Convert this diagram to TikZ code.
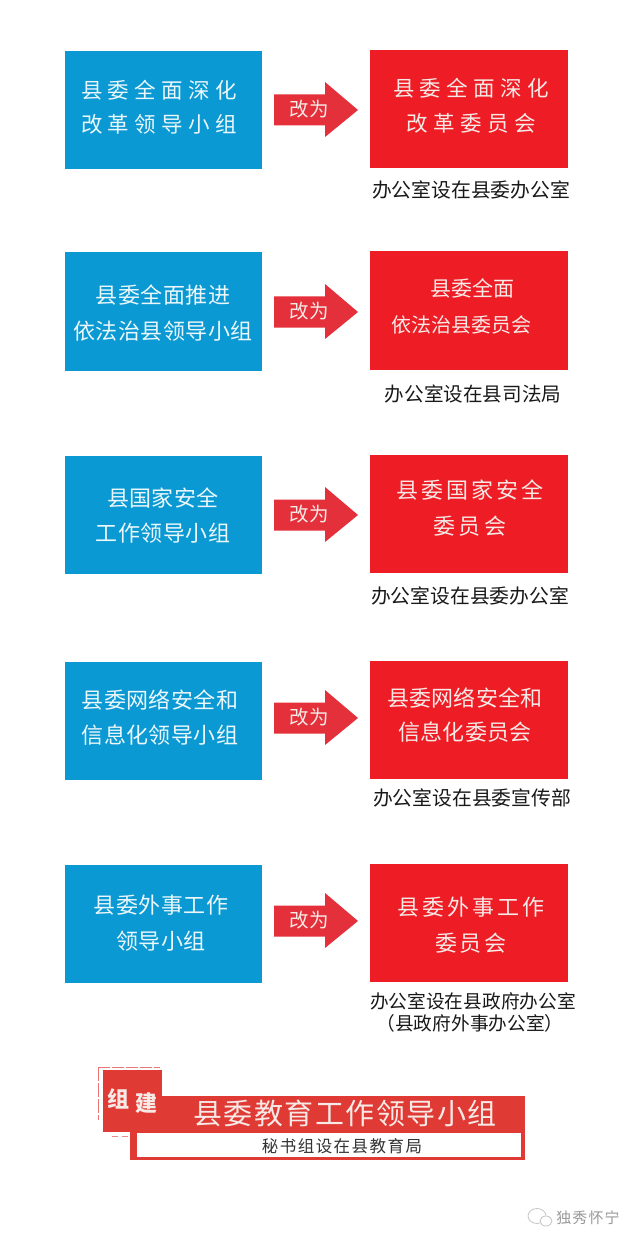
\documentclass[tikz,border=0pt]{standalone}
\usepackage{fontspec}
\setmainfont{Noto Sans CJK SC}
\definecolor{bluebox}{HTML}{0A99D2}
\definecolor{redbox}{HTML}{EE1C25}
\definecolor{arrowred}{HTML}{E3303A}
\definecolor{stampred}{HTML}{E03A35}
\definecolor{boxtext}{HTML}{F6E9E6}
\newcommand\pitched[3]{\fontsize{#1}{#1}\selectfont\addfontfeature{LetterSpace=#2}#3}
\tikzset{
  x=1pt,y=-1pt,
  blueblock/.style={fill=bluebox,draw=none,inner sep=0pt,minimum width=197pt,minimum height=118pt},
  redblock/.style={fill=redbox,draw=none,inner sep=0pt,minimum width=198pt,minimum height=118pt},
  boxline/.style={text=boxtext,inner sep=0pt},
  bluelabel/.style={text=white!92!bluebox,inner sep=0pt},
  caption/.style={text=black!90,inner sep=0pt,font=\fontsize{19.8}{22}\selectfont},
  changelabel/.style={text=boxtext,inner sep=0pt,font=\fontsize{19.5}{20}\selectfont},
}
\newcommand\changearrow[1]{%
  \fill[arrowred] (274,#1-15.5) -- (325,#1-15.5) -- (325,#1-28) -- (358,#1) -- (325,#1+27) -- (325,#1+15.5) -- (274,#1+15.5) -- cycle;
  \node[changelabel] (arrow#1) at (309,#1-1) {改为};}
\begin{document}
\begin{tikzpicture}
\useasboundingbox (0,0) rectangle (640,1246);
\fill[white] (0,0) rectangle (640,1246);

% row 1
\node[blueblock] (b1) at (163.5,110.5) {};
\node[redblock] (r1) at (469,109) {};
\changearrow{110}
\node[bluelabel] (b1a) at (159,90) {\pitched{21.5}{25}{县委全面深化}};
\node[bluelabel] (b1b) at (159,124) {\pitched{21.5}{25}{改革领导小组}};
\node[boxline] (r1a) at (471,88) {\pitched{21.5}{25}{县委全面深化}};
\node[boxline] (r1b) at (471,123) {\pitched{21.5}{25}{改革委员会}};
\node[caption] (c1) at (471,190) {办公室设在县委办公室};

% row 2
\node[blueblock] (b2) at (163.5,311.5) {};
\node[redblock] (r2) at (469,310.5) {};
\changearrow{312}
\node[bluelabel] (b2a) at (163,295) {\pitched{22}{2}{县委全面推进}};
\node[bluelabel] (b2b) at (163,331) {\pitched{22}{2}{依法治县领导小组}};
\node[boxline] (r2a) at (472,288) {\pitched{21}{0}{县委全面}};
\node[boxline] (r2b) at (461,325) {\pitched{20}{0}{依法治县委员会}};
\node[caption] (c2) at (473,394) {\fontsize{19.6}{22}\selectfont 办公室设在县司法局};

% row 3
\node[blueblock] (b3) at (163.5,515) {};
\node[redblock] (r3) at (469,514) {};
\changearrow{515}
\node[bluelabel] (b3a) at (163,498) {\pitched{22}{2}{县国家安全}};
\node[bluelabel] (b3b) at (163,533) {\pitched{22}{2}{工作领导小组}};
\node[boxline] (r3a) at (470,490) {\pitched{22}{14}{县委国家安全}};
\node[boxline] (r3b) at (470,526) {\pitched{22}{14}{委员会}};
\node[caption] (c3) at (470,596) {办公室设在县委办公室};

% row 4
\node[blueblock] (b4) at (163.5,721) {};
\node[redblock] (r4) at (469,720) {};
\changearrow{718}
\node[bluelabel] (b4a) at (160,700) {\pitched{22}{2}{县委网络安全和}};
\node[bluelabel] (b4b) at (160,735) {\pitched{22}{2}{信息化领导小组}};
\node[boxline] (r4a) at (465,698) {\pitched{22}{1}{县委网络安全和}};
\node[boxline] (r4b) at (465,732) {\pitched{22}{1}{信息化委员会}};
\node[caption] (c4) at (472,798) {办公室设在县委宣传部};

% row 5
\node[blueblock] (b5) at (163.5,924) {};
\node[redblock] (r5) at (469,923) {};
\changearrow{921}
\node[bluelabel] (b5a) at (161,905) {\pitched{22}{2}{县委外事工作}};
\node[bluelabel] (b5b) at (161,941) {\pitched{22}{2}{领导小组}};
\node[boxline] (r5a) at (471,907) {\pitched{22}{13}{县委外事工作}};
\node[boxline] (r5b) at (471,943) {\pitched{22}{13}{委员会}};
\node[caption] (c5a) at (473,1001) {\fontsize{18.7}{22}\selectfont 办公室设在县政府办公室};
\node[caption] (c5b) at (470,1023) {\fontsize{18.7}{22}\selectfont （县政府外事办公室）};

% banner
\fill[stampred] (130,1096) rectangle (525,1160);
\fill[white] (137,1133) rectangle (521,1157);
\fill[stampred] (103,1070) rectangle (162,1132);
\draw[stampred!70,line width=1pt,dash pattern=on 12pt off 2pt] (98,1067) -- (160,1067);
\draw[stampred!70,line width=1pt,dash pattern=on 14pt off 2pt] (98,1067) -- (98,1120);
\draw[stampred!60,line width=1pt,dash pattern=on 6pt off 4pt] (112,1136) -- (130,1136);
\node[text=boxtext,inner sep=0pt] (hd) at (345,1113) {\pitched{29}{5}{县委教育工作领导小组}};
\node[text=black!80,inner sep=0pt] (sub) at (342,1146) {\pitched{16.5}{9}{秘书组设在县教育局}};
\node[text=boxtext,inner sep=0pt] (z1) at (118,1099) {\pitched{22}{0}{\bfseries 组}};
\node[text=boxtext,inner sep=0pt] (z2) at (146,1103) {\pitched{22}{0}{\bfseries 建}};

% watermark
\draw[black!25,line width=0.7pt] (537,1216) ellipse (9pt and 7.5pt);
\fill[white] (546,1221) ellipse (6.5pt and 5.5pt);
\draw[black!25,line width=0.7pt] (546,1221) ellipse (6pt and 5pt);
\node[text=black!40,inner sep=0pt] (wm) at (588,1218) {\pitched{15}{7}{独秀怀宁}};
\end{tikzpicture}
\end{document}
